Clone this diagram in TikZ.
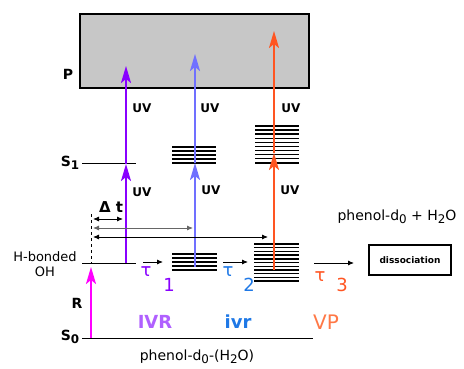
\documentclass[tikz,border=0pt]{standalone}
\usepackage{fontspec}
\setmainfont{DejaVu Sans}
\usetikzlibrary{arrows.meta}

\definecolor{violetA}{RGB}{136,0,255}
\definecolor{blueB}{RGB}{112,112,255}
\definecolor{orangeC}{RGB}{255,85,34}
\definecolor{pinkR}{RGB}{255,0,255}
\definecolor{lilacIVR}{RGB}{176,96,255}
\definecolor{blueTau}{RGB}{30,120,230}
\definecolor{coralVP}{RGB}{255,120,70}

\newcommand{\lowsub}[1]{\raisebox{-0.45ex}{\fontsize{0.85em}{1em}\selectfont #1}}

\tikzset{
  uvarrow/.style={line width=2.2pt, -{Stealth[length=17pt,width=10pt,inset=4pt]}},
  level/.style={line width=1pt},
  bandline/.style={line width=1.4pt},
  timearrow/.style={line width=0.8pt, {Latex[length=6pt,width=5pt]}-{Latex[length=6pt,width=5pt]}},
  steparrow/.style={line width=0.8pt, -{Latex[length=6pt,width=5pt]}},
  lbl/.style={font=\bfseries\fontsize{12}{12}\selectfont, inner sep=0pt},
  statelbl/.style={font=\bfseries\fontsize{14}{14}\selectfont, inner sep=0pt},
  txt/.style={font=\fontsize{13}{15}\selectfont, inner sep=0pt},
  big/.style={font=\fontsize{18}{18}\selectfont, inner sep=0pt}
}

\begin{document}
\begin{tikzpicture}[x=1pt, y=-1pt]
    \useasboundingbox (0,0) rectangle (464,369);

    % Product region
    \draw[line width=1.2pt, fill=black!22] (80,14) rectangle (309,88);
    \node[statelbl] (labP) at (68,74) {P};

    % Levels
    \draw[level] (82,164) -- (136,164);
    \node[statelbl] (labS1) at (70,163) {S\lowsub{1}};
    \draw[level] (82,263) -- (136,263);
    \node[txt, align=center] (labOH) at (45,264) {H-bonded\\OH};
    \draw[level] (82,338) -- (313,338);
    \node[statelbl] (labS0) at (70,337) {S\lowsub{0}};

    % Vibrational bands
    \foreach \i in {0,...,4} {
      \draw[bandline] (172,147+4*\i) -- (216,147+4*\i);
      \draw[bandline] (172,254+4*\i) -- (217,254+4*\i);
    }
    \foreach \i in {0,...,9}
      \draw[bandline] (255,126+4.1*\i) -- (299,126+4.1*\i);
    \foreach \i in {0,...,10}
      \draw[bandline] (254,244+3.7*\i) -- (299,244+3.7*\i);

    % Arrow ends
    \coordinate (s0R) at (91,338);
    \coordinate (ohR) at (91,267);
    \coordinate (ohA) at (126,263);
    \coordinate (s1A) at (126,164);
    \coordinate (pA) at (126,66);
    \coordinate (vibB) at (195,267);
    \coordinate (s1B) at (195,163);
    \coordinate (pB) at (195,54);
    \coordinate (vibC) at (274,270);
    \coordinate (s1C) at (274,153);
    \coordinate (pC) at (274,31);

    % Excitation arrows
    \draw[uvarrow, pinkR] (s0R) -- (ohR);
    \draw[uvarrow, violetA] (ohA) -- (s1A);
    \draw[uvarrow, violetA] (s1A) -- (pA);
    \draw[uvarrow, blueB] (vibB) -- (s1B);
    \draw[uvarrow, blueB] (s1B) -- (pB);
    \draw[uvarrow, orangeC] (vibC) -- (s1C);
    \draw[uvarrow, orangeC] (s1C) -- (pC);

    \node[statelbl] (labR) at (77,303) {R};
    \node[lbl] (uvA1) at (142,108) {UV};
    \node[lbl] (uvB1) at (210,108) {UV};
    \node[lbl] (uvC1) at (291,108) {UV};
    \node[lbl] (uvA2) at (142,192) {UV};
    \node[lbl] (uvB2) at (211,190) {UV};
    \node[lbl] (uvC2) at (290,190) {UV};

    % Delay times
    \coordinate (t0) at (91,214);
    \coordinate (t1) at (91,263);
    \draw[dashed, line width=0.7pt] (t0) -- (t1);
    \coordinate (dA0) at (93,219);
    \coordinate (dA1) at (123,219);
    \coordinate (dB0) at (93,228);
    \coordinate (dB1) at (193,228);
    \coordinate (dC0) at (93,237);
    \coordinate (dC1) at (268,237);
    \draw[timearrow] (dA0) -- (dA1);
    \draw[timearrow, black!60] (dB0) -- (dB1);
    \draw[timearrow] (dC0) -- (dC1);
    \node[font=\bfseries\fontsize{15}{15}\selectfont, inner sep=0pt] (labDt) at (111,207) {Δ t};

    % Relaxation steps
    \coordinate (st1a) at (143,262);
    \coordinate (st1b) at (163,262);
    \coordinate (st2a) at (223,262);
    \coordinate (st2b) at (248,262);
    \coordinate (st3a) at (314,263);
    \coordinate (st3b) at (354,263);
    \draw[steparrow] (st1a) -- (st1b);
    \draw[steparrow] (st2a) -- (st2b);
    \draw[steparrow] (st3a) -- (st3b);

    \node[big, violetA] (tau1) at (146,272) {τ};
    \node[big, violetA] (num1) at (169,285) {1};
    \node[big, blueTau] (tau2) at (228,272) {τ};
    \node[big, blueTau] (num2) at (249,285) {2};
    \node[big, orangeC] (tau3) at (320,277) {τ};
    \node[big, orangeC] (num3) at (342,285) {3};

    % Product channel
    \node[draw, line width=1.2pt, minimum width=82pt, minimum height=30pt,
          font=\bfseries\fontsize{9}{9}\selectfont] (diss) at (410,260) {dissociation};
    \node[txt, font=\fontsize{14}{14}\selectfont] (prod) at (397,217) {phenol-d\lowsub{0} + H\lowsub{2}O};

    % Regimes
    \node[big, lilacIVR, font=\bfseries\fontsize{18}{18}\selectfont] (labIVR) at (155,322) {IVR};
    \node[big, blueTau, font=\bfseries\fontsize{18}{18}\selectfont] (labivr) at (238,322) {ivr};
    \node[big, coralVP, font=\fontsize{20}{20}\selectfont] (labVP) at (326,322) {VP};
    \node[txt, font=\fontsize{14}{14}\selectfont] (cluster) at (197,357) {phenol-d\lowsub{0}-(H\lowsub{2}O)};
\end{tikzpicture}
\end{document}
